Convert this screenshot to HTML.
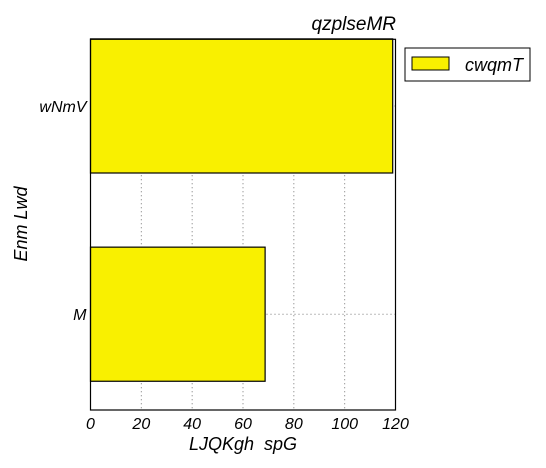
<!DOCTYPE html>
<html><head><meta charset="utf-8"><style>
body{margin:0;background:#fff;}
svg{display:block;font-family:"Liberation Sans",sans-serif;font-style:italic;}
</style></head><body>
<svg id="c" width="546" height="468"></svg>
<script>
const categories=["M","wNmV"];
const values=[68.7,118.9];
const xTicks=[0,20,40,60,80,100,120];
const seriesName="cwqmT";
const NS="http://www.w3.org/2000/svg";
const svg=document.getElementById('c');
const L=90.5,R=395.5,T=39.3,B=410;
const xMin=0,xMax=120,yMin=-0.46,yMax=1.32,barH=0.644;
const xs=v=>L+(v-xMin)/(xMax-xMin)*(R-L);
const ys=v=>B-(v-yMin)/(yMax-yMin)*(B-T);
function el(t,a,p){const e=document.createElementNS(NS,t);for(const k in a)e.setAttribute(k,a[k]);(p||svg).appendChild(e);return e;}
const grid=el('g',{});


xTicks.forEach(t=>{if(t>xMin&&t<xMax){el('line',{x1:xs(t),x2:xs(t),y1:T,y2:B,stroke:'#777','stroke-dasharray':'1,3'},grid);}});
categories.forEach((c,i)=>{el('line',{x1:L,x2:R,y1:ys(i),y2:ys(i),stroke:'#777','stroke-dasharray':'1,3'},grid);});
categories.forEach((c,i)=>{
 const r=el('rect',{x:xs(0),y:ys(i+barH/2),width:xs(values[i])-xs(0),height:ys(i-barH/2)-ys(i+barH/2),fill:'#f9f000',stroke:'#000','stroke-width':1.2});
 
 
 const tl=el('text',{x:L-4,y:ys(i)+6,'text-anchor':'end','font-size':16});
 tl.textContent=c;
 
 
});
const ax=el('rect',{x:L,y:T,width:R-L,height:B-T,fill:'none',stroke:'#000','stroke-width':1.2});


xTicks.forEach(t=>{
 const tx=el('text',{x:xs(t),y:429,'text-anchor':'middle','font-size':16});
 tx.textContent=t;
 
 
});
const xl=el('text',{x:243,y:450,'text-anchor':'middle','font-size':18,style:'white-space:pre'});
xl.textContent="LJQKgh  spG";


const yl=el('text',{x:0,y:0,'text-anchor':'middle','font-size':18,transform:'translate(27,224) rotate(-90)'});
yl.textContent="Enm Lwd";


const ti=el('text',{x:396,y:30,'text-anchor':'end','font-size':19});
ti.textContent="qzplseMR";


const lg=el('g',{});


el('rect',{x:405,y:48,width:125,height:33,fill:'#fff',stroke:'#000','stroke-width':1},lg);
el('rect',{x:412,y:57,width:37,height:13,fill:'#f9f000',stroke:'#000','stroke-width':1},lg);
const lt=el('text',{x:465,y:71,'font-size':18},lg);
lt.textContent=seriesName;


</script>
</body></html>
